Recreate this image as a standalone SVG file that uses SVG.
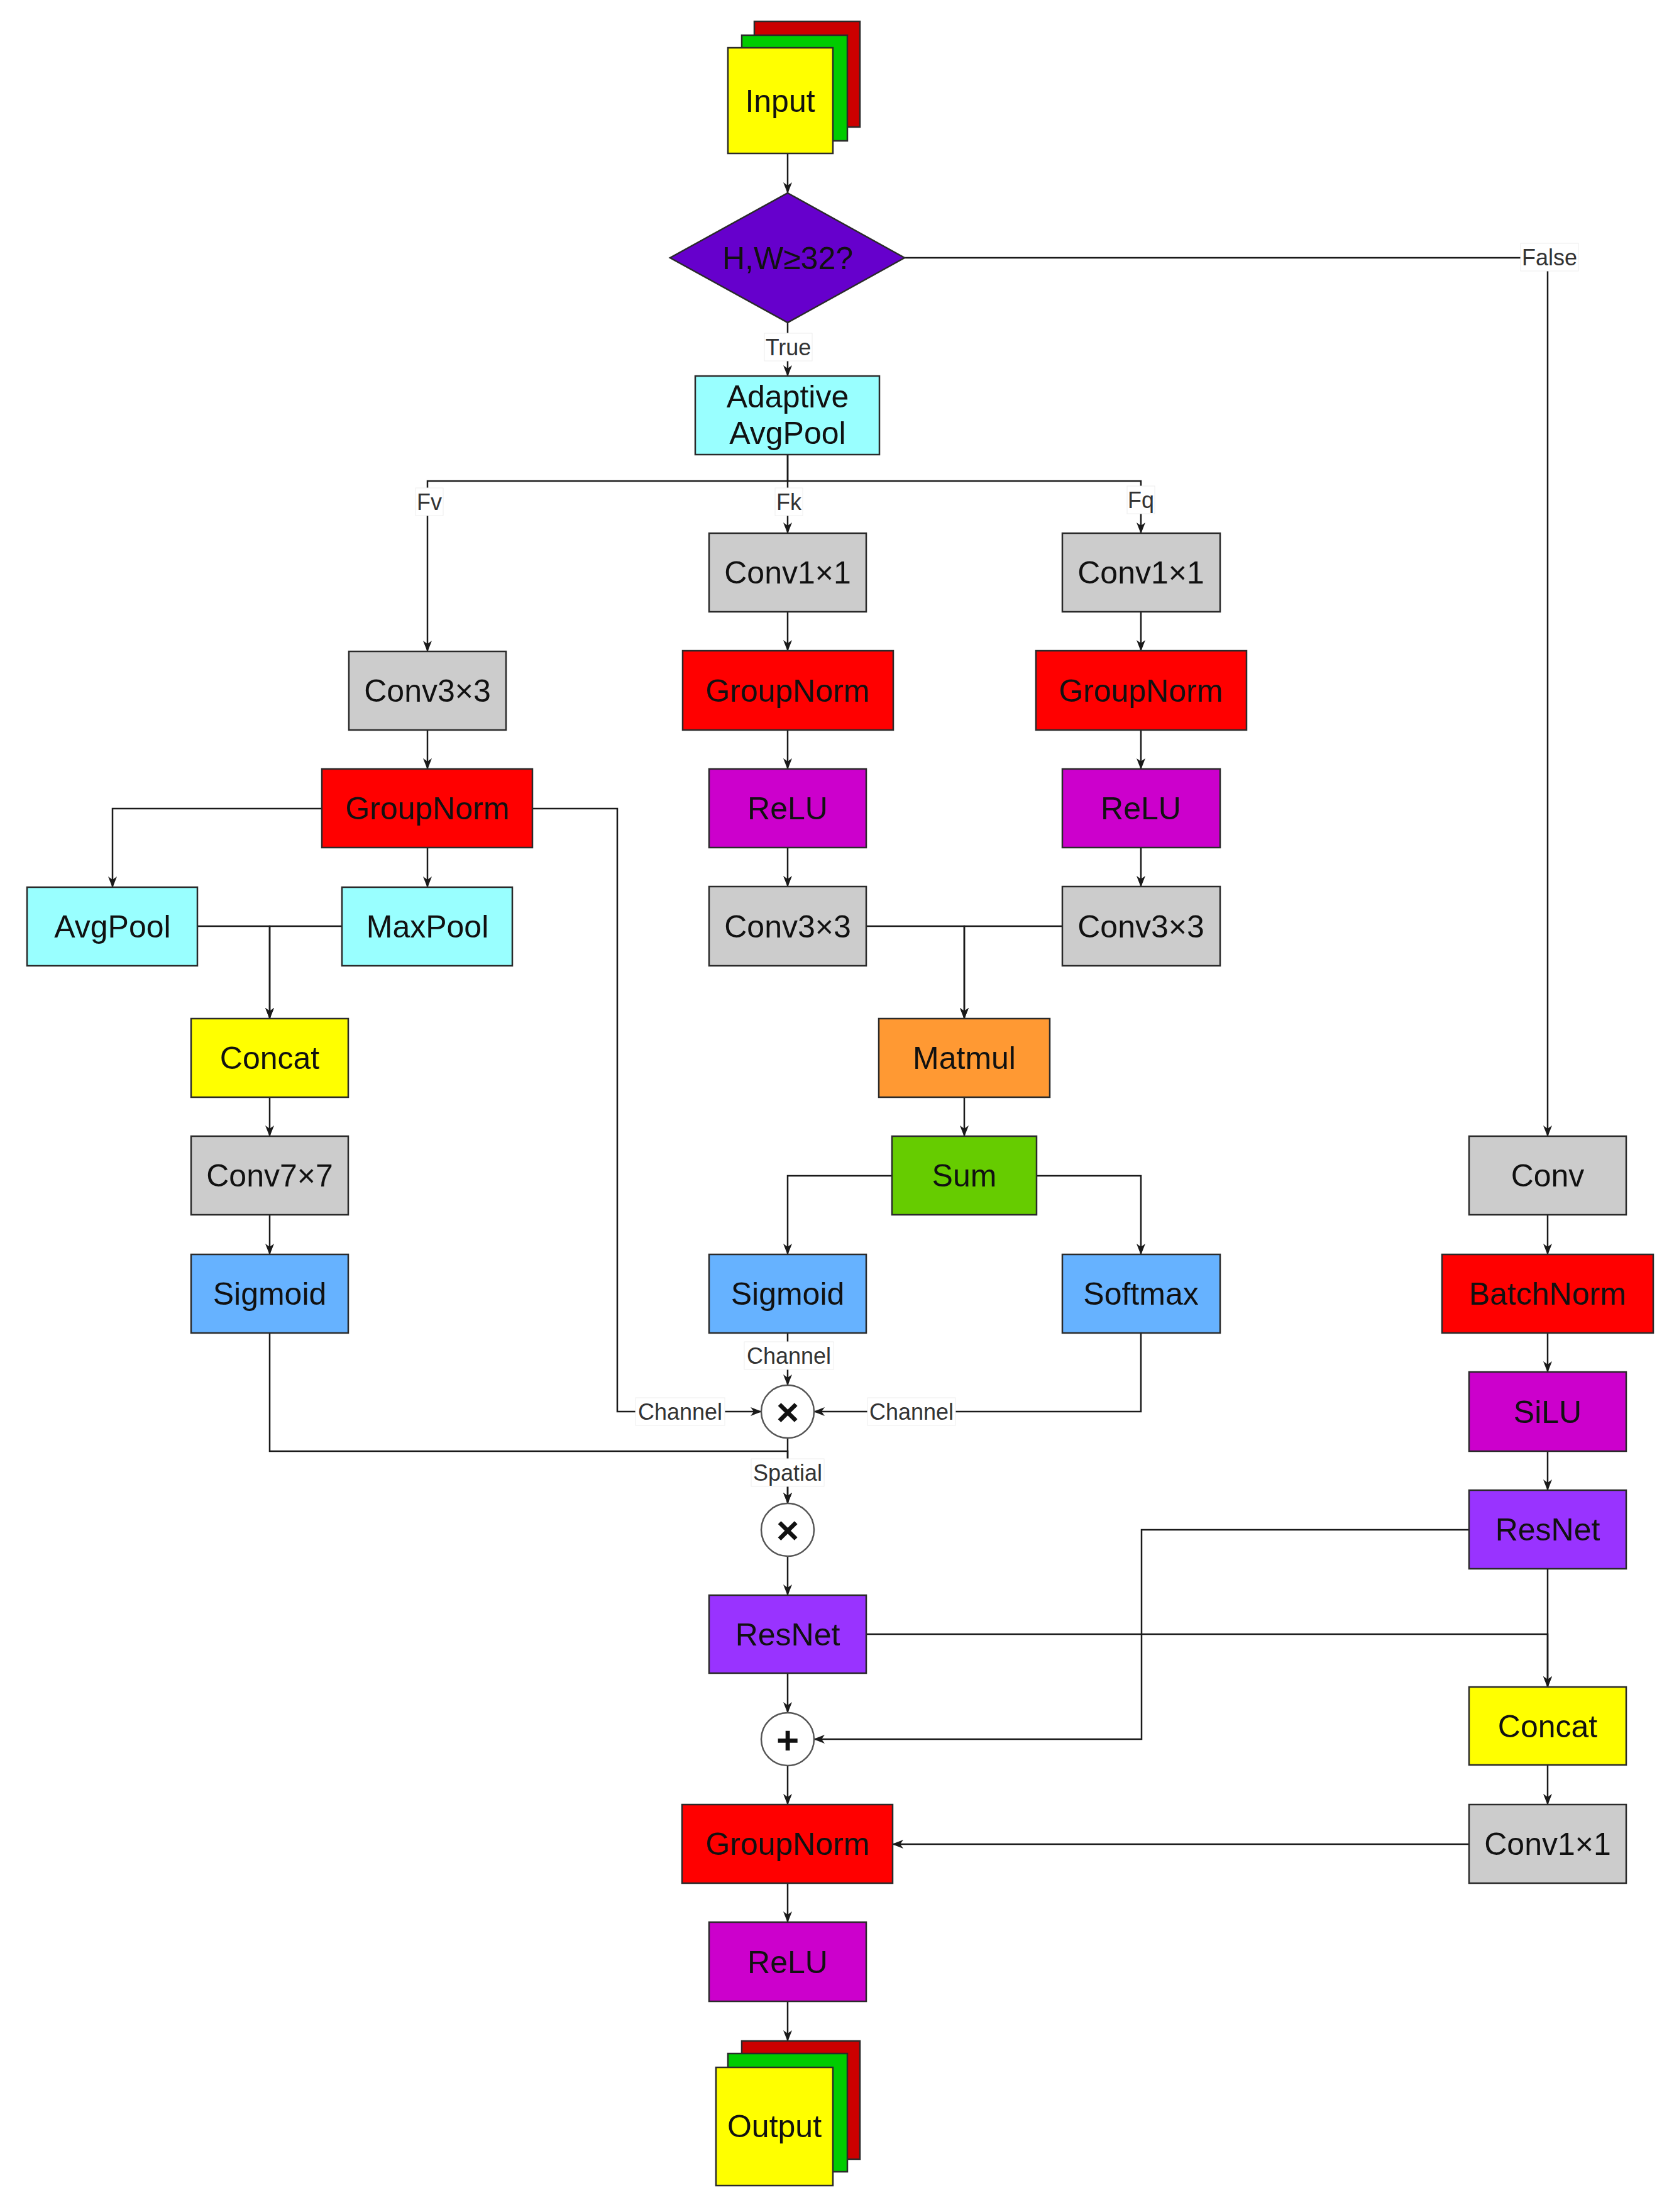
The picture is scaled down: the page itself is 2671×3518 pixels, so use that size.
<svg xmlns="http://www.w3.org/2000/svg" width="2671" height="3518" viewBox="0 0 2671 3518">
<style>
.n{stroke:#2a2a2a;stroke-width:2.5}
.t{font-family:"Liberation Sans",Arial,sans-serif;font-size:50px;fill:#111;text-anchor:middle}
.c{fill:none;stroke:#1a1a1a;stroke-width:2.5}
.lb{fill:#fff;stroke:#eeeeee;stroke-width:1}
.lt{font-family:"Liberation Sans",Arial,sans-serif;font-size:36px;fill:#333;text-anchor:middle}
.op{fill:#fff;stroke:#555;stroke-width:2.5}
.ot{font-family:"Liberation Sans",Arial,sans-serif;font-weight:bold;fill:#111;text-anchor:middle}
.grey{fill:#CCCCCC}.red{fill:#FF0000}.mag{fill:#CC00CC}.cyan{fill:#99FFFF}.yel{fill:#FFFF00}.blue{fill:#66B2FF}.pur{fill:#9933FF}
</style>
<defs>
<marker id="arr" markerUnits="userSpaceOnUse" markerWidth="18" markerHeight="14" refX="17" refY="7" orient="auto">
<path d="M0,0 L18,7 L0,14 L5,7 Z" fill="#1a1a1a"/>
</marker>
</defs>
<rect width="2671" height="3518" fill="#fff"/>

<g id="connectors">
<path class="c" d="M1253,244 V307" marker-end="url(#arr)"/>
<path class="c" d="M1253,513 V598" marker-end="url(#arr)"/>
<path class="c" d="M1253,723 V765 H680 V1036" marker-end="url(#arr)"/>
<path class="c" d="M1253,723 V848" marker-end="url(#arr)"/>
<path class="c" d="M1253,765 H1815 V848" marker-end="url(#arr)"/>
<path class="c" d="M1439,410 H2462 V1807" marker-end="url(#arr)"/>
<path class="c" d="M680,1161 V1223" marker-end="url(#arr)"/>
<path class="c" d="M512,1286 H179 V1411" marker-end="url(#arr)"/>
<path class="c" d="M680,1348 V1411" marker-end="url(#arr)"/>
<path class="c" d="M847,1286 H982 V2245 H1211" marker-end="url(#arr)"/>
<path class="c" d="M314,1473 H429 V1620" marker-end="url(#arr)"/>
<path class="c" d="M544,1473 H429 V1620" marker-end="url(#arr)"/>
<path class="c" d="M429,1745 V1807" marker-end="url(#arr)"/>
<path class="c" d="M429,1932 V1995" marker-end="url(#arr)"/>
<path class="c" d="M429,2120 V2308 H1253 V2391" marker-end="url(#arr)"/>
<path class="c" d="M1253,2287 V2391" marker-end="url(#arr)"/>
<path class="c" d="M1253,973 V1035" marker-end="url(#arr)"/>
<path class="c" d="M1253,1161 V1223" marker-end="url(#arr)"/>
<path class="c" d="M1253,1348 V1410" marker-end="url(#arr)"/>
<path class="c" d="M1815,973 V1035" marker-end="url(#arr)"/>
<path class="c" d="M1815,1161 V1223" marker-end="url(#arr)"/>
<path class="c" d="M1815,1348 V1410" marker-end="url(#arr)"/>
<path class="c" d="M1378,1473 H1534 V1620" marker-end="url(#arr)"/>
<path class="c" d="M1690,1473 H1534 V1620" marker-end="url(#arr)"/>
<path class="c" d="M1534,1745 V1807" marker-end="url(#arr)"/>
<path class="c" d="M1419,1870 H1253 V1995" marker-end="url(#arr)"/>
<path class="c" d="M1649,1870 H1815 V1995" marker-end="url(#arr)"/>
<path class="c" d="M1253,2120 V2203" marker-end="url(#arr)"/>
<path class="c" d="M1815,2120 V2245 H1295" marker-end="url(#arr)"/>
<path class="c" d="M1253,2475 V2537" marker-end="url(#arr)"/>
<path class="c" d="M1253,2661 V2724" marker-end="url(#arr)"/>
<path class="c" d="M1253,2808 V2870" marker-end="url(#arr)"/>
<path class="c" d="M1253,2995 V3057" marker-end="url(#arr)"/>
<path class="c" d="M1253,3183 V3246" marker-end="url(#arr)"/>
<path class="c" d="M2462,1932 V1995" marker-end="url(#arr)"/>
<path class="c" d="M2462,2120 V2182" marker-end="url(#arr)"/>
<path class="c" d="M2462,2308 V2370" marker-end="url(#arr)"/>
<path class="c" d="M2337,2433 H1816 V2766 H1295" marker-end="url(#arr)"/>
<path class="c" d="M1378,2599 H2462 V2683" marker-end="url(#arr)"/>
<path class="c" d="M2462,2495 V2683" marker-end="url(#arr)"/>
<path class="c" d="M2462,2807 V2870" marker-end="url(#arr)"/>
<path class="c" d="M2337,2933 H1420" marker-end="url(#arr)"/>

<g id="labels">
<rect class="lb" x="1216" y="530" width="76" height="44"/><text class="lt" x="1254" y="565">True</text>
<rect class="lb" x="661" y="776" width="44" height="44"/><text class="lt" x="683" y="811">Fv</text>
<rect class="lb" x="1233" y="776" width="44" height="44"/><text class="lt" x="1255" y="811">Fk</text>
<rect class="lb" x="1793" y="773" width="44" height="44"/><text class="lt" x="1815" y="808">Fq</text>
<rect class="lb" x="2419" y="387" width="92" height="44"/><text class="lt" x="2465" y="422">False</text>
<rect class="lb" x="1184" y="2134" width="142" height="44"/><text class="lt" x="1255" y="2169">Channel</text>
<rect class="lb" x="1011" y="2223" width="142" height="44"/><text class="lt" x="1082" y="2258">Channel</text>
<rect class="lb" x="1380" y="2223" width="140" height="44"/><text class="lt" x="1450" y="2258">Channel</text>
<rect class="lb" x="1195" y="2320" width="116" height="44"/><text class="lt" x="1253" y="2355">Spatial</text>
</g>
</g>

<g id="input">
<rect class="n" x="1200" y="34" width="168" height="168" fill="#CC0000"/>
<rect class="n" x="1180" y="56" width="168" height="168" fill="#00CC00"/>
<rect class="n" x="1158" y="76" width="167" height="168" fill="#FFFF00"/>
<text class="t" x="1241" y="178">Input</text>
</g>
<g id="decision">
<polygon class="n" points="1253,307 1439,410 1253,513 1066,410" fill="#6600CC"/>
<text class="t" x="1253" y="428">H,W≥32?</text>
</g>
<g id="adaptive-avgpool">
<rect class="n cyan" x="1106" y="598" width="293" height="125"/>
<text class="t" x="1253" y="648">Adaptive</text>
<text class="t" x="1253" y="706">AvgPool</text>
</g>

<g id="conv3x3-v"><rect class="n grey" x="555" y="1036" width="250" height="125"/><text class="t" x="680" y="1116">Conv3×3</text></g>
<g id="groupnorm-v"><rect class="n red" x="512" y="1223" width="335" height="125"/><text class="t" x="680" y="1303">GroupNorm</text></g>
<g id="avgpool"><rect class="n cyan" x="43" y="1411" width="271" height="125"/><text class="t" x="179" y="1491">AvgPool</text></g>
<g id="maxpool"><rect class="n cyan" x="544" y="1411" width="271" height="125"/><text class="t" x="680" y="1491">MaxPool</text></g>
<g id="concat-left"><rect class="n yel" x="304" y="1620" width="250" height="125"/><text class="t" x="429" y="1700">Concat</text></g>
<g id="conv7x7"><rect class="n grey" x="304" y="1807" width="250" height="125"/><text class="t" x="429" y="1887">Conv7×7</text></g>
<g id="sigmoid-left"><rect class="n blue" x="304" y="1995" width="250" height="125"/><text class="t" x="429" y="2075">Sigmoid</text></g>

<g id="conv1x1-k"><rect class="n grey" x="1128" y="848" width="250" height="125"/><text class="t" x="1253" y="928">Conv1×1</text></g>
<g id="groupnorm-k"><rect class="n red" x="1086" y="1035" width="335" height="126"/><text class="t" x="1253" y="1116">GroupNorm</text></g>
<g id="relu-k"><rect class="n mag" x="1128" y="1223" width="250" height="125"/><text class="t" x="1253" y="1303">ReLU</text></g>
<g id="conv3x3-k"><rect class="n grey" x="1128" y="1410" width="250" height="126"/><text class="t" x="1253" y="1491">Conv3×3</text></g>

<g id="conv1x1-q"><rect class="n grey" x="1690" y="848" width="251" height="125"/><text class="t" x="1815" y="928">Conv1×1</text></g>
<g id="groupnorm-q"><rect class="n red" x="1648" y="1035" width="335" height="126"/><text class="t" x="1815" y="1116">GroupNorm</text></g>
<g id="relu-q"><rect class="n mag" x="1690" y="1223" width="251" height="125"/><text class="t" x="1815" y="1303">ReLU</text></g>
<g id="conv3x3-q"><rect class="n grey" x="1690" y="1410" width="251" height="126"/><text class="t" x="1815" y="1491">Conv3×3</text></g>

<g id="matmul"><rect class="n" x="1398" y="1620" width="272" height="125" fill="#FF9933"/><text class="t" x="1534" y="1700">Matmul</text></g>
<g id="sum"><rect class="n" x="1419" y="1807" width="230" height="125" fill="#66CC00"/><text class="t" x="1534" y="1887">Sum</text></g>
<g id="sigmoid-mid"><rect class="n blue" x="1128" y="1995" width="250" height="125"/><text class="t" x="1253" y="2075">Sigmoid</text></g>
<g id="softmax"><rect class="n blue" x="1690" y="1995" width="251" height="125"/><text class="t" x="1815" y="2075">Softmax</text></g>

<g id="mul-channel"><circle class="op" cx="1253" cy="2245" r="42"/><text class="ot" x="1253" y="2267" font-size="62">×</text></g>
<g id="mul-spatial"><circle class="op" cx="1253" cy="2433" r="42"/><text class="ot" x="1253" y="2455" font-size="62">×</text></g>
<g id="resnet-mid"><rect class="n pur" x="1128" y="2537" width="250" height="124"/><text class="t" x="1253" y="2617">ResNet</text></g>
<g id="add"><circle class="op" cx="1253" cy="2766" r="42"/><text class="ot" x="1253" y="2789" font-size="62">+</text></g>
<g id="groupnorm-out"><rect class="n red" x="1085" y="2870" width="335" height="125"/><text class="t" x="1253" y="2950">GroupNorm</text></g>
<g id="relu-out"><rect class="n mag" x="1128" y="3057" width="250" height="126"/><text class="t" x="1253" y="3138">ReLU</text></g>
<g id="output">
<rect class="n" x="1180" y="3246" width="188" height="188" fill="#CC0000"/>
<rect class="n" x="1158" y="3266" width="190" height="188" fill="#00CC00"/>
<rect class="n" x="1139" y="3288" width="186" height="188" fill="#FFFF00"/>
<text class="t" x="1232" y="3399">Output</text>
</g>

<g id="conv"><rect class="n grey" x="2337" y="1807" width="250" height="125"/><text class="t" x="2462" y="1887">Conv</text></g>
<g id="batchnorm"><rect class="n red" x="2294" y="1995" width="336" height="125"/><text class="t" x="2462" y="2075">BatchNorm</text></g>
<g id="silu"><rect class="n mag" x="2337" y="2182" width="250" height="126"/><text class="t" x="2462" y="2263">SiLU</text></g>
<g id="resnet-right"><rect class="n pur" x="2337" y="2370" width="250" height="125"/><text class="t" x="2462" y="2450">ResNet</text></g>
<g id="concat-right"><rect class="n yel" x="2337" y="2683" width="250" height="124"/><text class="t" x="2462" y="2763">Concat</text></g>
<g id="conv1x1-right"><rect class="n grey" x="2337" y="2870" width="250" height="125"/><text class="t" x="2462" y="2950">Conv1×1</text></g>
</svg>
